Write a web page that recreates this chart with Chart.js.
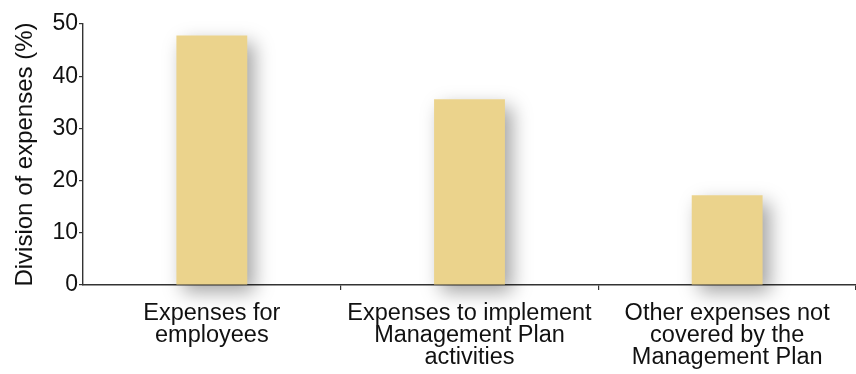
<!DOCTYPE html>
<html>
<head>
<meta charset="utf-8">
<script src="https://cdn.jsdelivr.net/npm/chart.js@4/dist/chart.umd.min.js"></script>
<style>
    html, body { margin: 0; padding: 0; background: #fff; }
    #wrap { width: 856px; height: 374px; }
</style>
</head>
<body>
<div id="wrap"><canvas id="expensesChart"></canvas></div>
<script>
const categories = [
    ['Expenses for', 'employees'],
    ['Expenses to implement', 'Management Plan', 'activities'],
    ['Other expenses not', 'covered by the', 'Management Plan']
];
const shares = [47.8, 35.6, 17.2];
const yTicks = [0, 10, 20, 30, 40, 50];

const FONT = "'Liberation Sans', Arial, sans-serif";
const INK = '#111';

// soft grey drop shadow under each bar
const barShadow = {
    id: 'barShadow',
    beforeDatasetDraw(chart) {
        const ctx = chart.ctx;
        ctx.save();
        ctx.shadowColor = 'rgba(0, 0, 0, 0.36)';
        ctx.shadowBlur = 18;
        ctx.shadowOffsetX = 7;
        ctx.shadowOffsetY = 8;
    },
    afterDatasetDraw(chart) {
        chart.ctx.restore();
    }
};

const ctx = document.getElementById('expensesChart').getContext('2d');
new Chart(ctx, {
    type: 'bar',
    data: {
        labels: categories,
        datasets: [{
            data: shares,
            backgroundColor: '#ebd38c',
            borderWidth: 0,
            categoryPercentage: 1,
            barPercentage: 0.275,
            clip: false
        }]
    },
    options: {
        responsive: true,
        maintainAspectRatio: false,
        animation: false,
        layout: { padding: { top: 24, right: 0, bottom: 0, left: 0 } },
        plugins: {
            legend: { display: false },
            tooltip: { enabled: false }
        },
        scales: {
            x: {
                z: 1,
                grid: {
                    offset: true,
                    drawOnChartArea: false,
                    drawTicks: true,
                    tickLength: 5,
                    color: (c) => (c.index === 0 || c.index === categories.length) ? 'rgba(0,0,0,0)' : '#333',
                    lineWidth: 1.2
                },
                border: { color: '#333', width: 1.6 },
                ticks: {
                    color: INK,
                    padding: 13,
                    maxRotation: 0,
                    autoSkip: false,
                    font: { family: FONT, size: 23.5, lineHeight: 0.93 }
                },
                afterFit: (scale) => { scale.height = 89; }
            },
            y: {
                min: 0,
                max: 50,
                afterBuildTicks: (scale) => { scale.ticks = yTicks.map(v => ({ value: v })); },
                grid: {
                    drawOnChartArea: false,
                    drawTicks: true,
                    tickLength: 4,
                    color: '#333',
                    lineWidth: 1.2
                },
                border: { color: '#333', width: 1.4 },
                ticks: {
                    color: INK,
                    padding: 1,
                    font: { family: FONT, size: 23 }
                },
                title: {
                    display: true,
                    text: 'Division of expenses (%)',
                    color: INK,
                    padding: { top: 11, bottom: 0 },
                    font: { family: FONT, size: 24 }
                },
                afterFit: (scale) => { scale.width = 83; }
            }
        }
    },
    plugins: [barShadow]
});
</script>
</body>
</html>
